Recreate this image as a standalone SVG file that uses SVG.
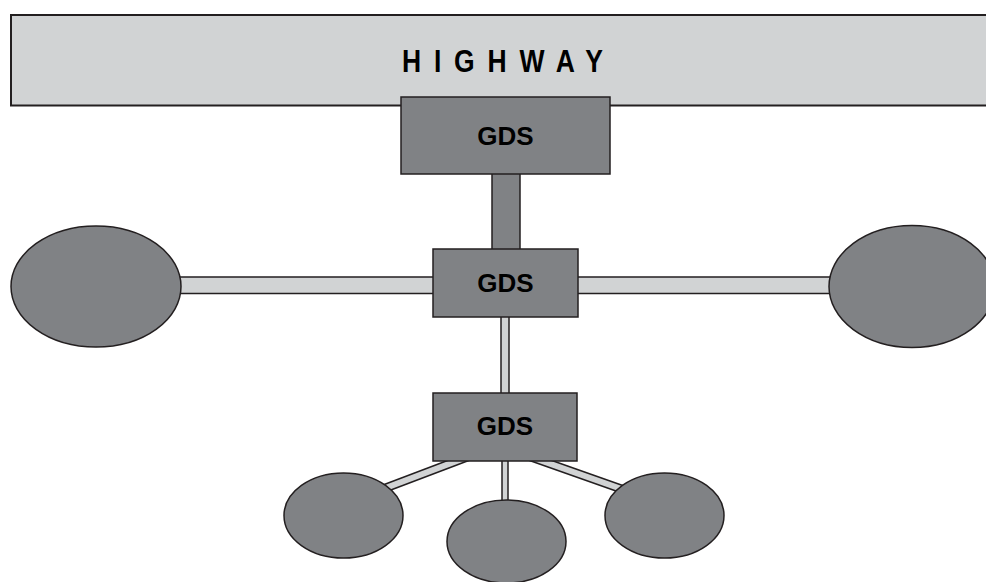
<svg xmlns="http://www.w3.org/2000/svg" width="986" height="582" viewBox="0 0 986 582">
<style>
.node{fill:#808285;stroke:#231f20;stroke-width:1.5}
.bar{fill:#d1d3d4;stroke:#231f20;stroke-width:1.5}
.lbl{font-family:"Liberation Sans",Arial,sans-serif;font-weight:bold;font-size:26px;fill:#000;text-anchor:middle}
</style>
<rect width="986" height="582" fill="#fff"/>
<g id="highway">
<rect x="11" y="15" width="990" height="90.5" fill="#d1d3d4" stroke="#231f20" stroke-width="2"/>
<text transform="translate(402,72) scale(1,1.2)" x="0" y="0" font-family="'Liberation Sans',Arial,sans-serif" font-weight="bold" font-size="26.5" letter-spacing="12.8" fill="#000">HIGHWAY</text>
</g>
<g id="connectors">
<rect x="492" y="170" width="28" height="84" fill="#808285" stroke="#231f20" stroke-width="1.5"/>
<rect class="bar" x="170" y="277" width="270" height="16.5"/>
<rect class="bar" x="570" y="277" width="270" height="16.5"/>
<rect class="bar" x="501" y="310" width="8" height="90"/>
<line x1="470" y1="456" x2="375" y2="492" stroke="#231f20" stroke-width="9"/>
<line x1="470" y1="456" x2="375" y2="492" stroke="#d1d3d4" stroke-width="6"/>
<line x1="528" y1="456" x2="630" y2="492" stroke="#231f20" stroke-width="9"/>
<line x1="528" y1="456" x2="630" y2="492" stroke="#d1d3d4" stroke-width="6"/>
<rect class="bar" x="502" y="455" width="6" height="50"/>
</g>
<g id="gds-top">
<rect class="node" x="401" y="97" width="209" height="77"/>
<text class="lbl" x="505.5" y="145">GDS</text>
</g>
<g id="gds-mid">
<rect class="node" x="433" y="249" width="145" height="68"/>
<text class="lbl" x="505.5" y="292">GDS</text>
</g>
<g id="gds-bottom">
<rect class="node" x="433" y="393" width="144" height="68"/>
<text class="lbl" x="505" y="434.5">GDS</text>
</g>
<g id="node-left"><ellipse class="node" cx="96" cy="286.5" rx="85" ry="60.5"/></g>
<g id="node-right"><ellipse class="node" cx="912" cy="286.5" rx="83" ry="61"/></g>
<g id="node-bl"><ellipse class="node" cx="343.5" cy="515.5" rx="59.5" ry="42.5"/></g>
<g id="node-bm"><ellipse class="node" cx="506.5" cy="541.5" rx="59.5" ry="41.5"/></g>
<g id="node-br"><ellipse class="node" cx="664.5" cy="515.5" rx="59.5" ry="42.5"/></g>
</svg>
